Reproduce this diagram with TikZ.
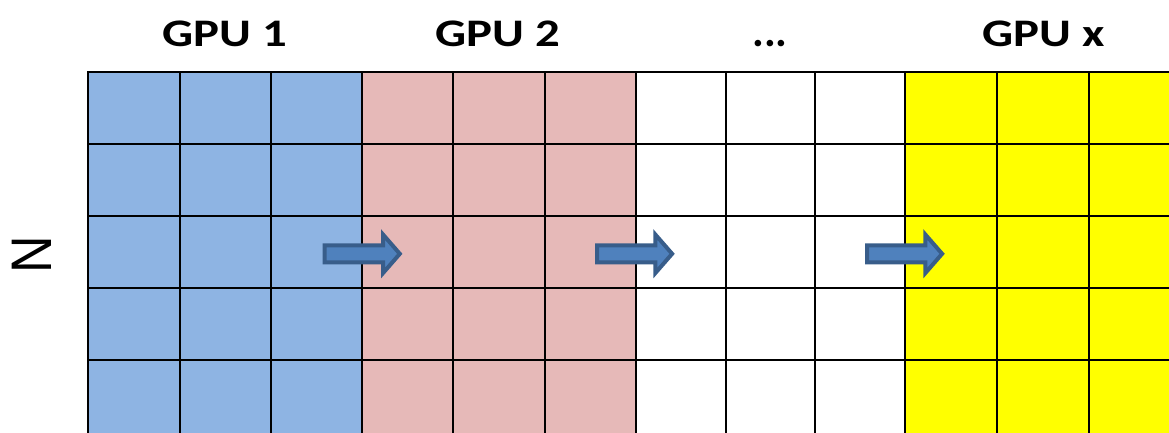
\documentclass[tikz,border=0pt]{standalone}
\usepackage{fontspec}
\usepackage{graphicx}
\setmainfont{Carlito}
\newfontfamily\labelsans{Liberation Sans}
\definecolor{gpuone}{HTML}{8EB4E3}
\definecolor{gputwo}{HTML}{E6B9B8}
\definecolor{gpux}{HTML}{FFFF00}
\definecolor{arrowfill}{HTML}{4F81BD}
\definecolor{arrowedge}{HTML}{385D8A}
% block arrow pointing right, left end at x = #1, centred on y = 253.8
\newcommand\flowarrow[1]{%
  \draw[blockarrow] (#1,245.3) -- (#1+58.3,245.3) -- (#1+58.3,234.5)
    -- (#1+75.1,253.8) -- (#1+58.3,273.1) -- (#1+58.3,262.3)
    -- (#1,262.3) -- cycle;}
% headings are set a little wide
\newcommand\widetext[1]{\scalebox{1.25}[1]{#1}}
\begin{document}
\begin{tikzpicture}[x=1pt,y=-1pt,
  gridline/.style={line width=2pt,black,line cap=rect},
  head/.style={font=\bfseries\fontsize{39}{46}\selectfont,anchor=base,inner sep=0pt},
  blockarrow/.style={fill=arrowfill,draw=arrowedge,line width=4pt,line join=miter}]
\useasboundingbox (0,0) rectangle (1169,433);
\clip (0,0) rectangle (1169,433);

% column groups
\fill[gpuone] (88,72) rectangle (362,440);
\fill[gputwo] (362,72) rectangle (636,440);
\fill[gpux]   (905,72) rectangle (1180,440);

% grid
\foreach \x in {88,179.7,271,362,453.3,545,636,725.7,815,905,996.7,1088.7}
  \draw[gridline] (\x,72) -- (\x,445);
\foreach \y in {72,144,216,288,360}
  \draw[gridline] (88,\y) -- (1180,\y);

% headings
\node[head] (gpu1) at (224.5,46.7) {\widetext{GPU 1}};
\node[head] (gpu2) at (498,46.7) {\widetext{GPU 2}};
\node[head,font=\bfseries\fontsize{44}{50}\selectfont] (dots) at (770,46.7) {...};
\node[head] (gpux) at (1044,46.7) {\widetext{GPU x}};

% row count label
\node[font=\labelsans\fontsize{52}{60}\selectfont,rotate=90,inner sep=0pt] (n) at (31.5,254.5) {\scalebox{1}[1.1]{N}};

% transfer arrows between GPUs
\flowarrow{324.7}
\flowarrow{597}
\flowarrow{867}
\end{tikzpicture}
\end{document}
